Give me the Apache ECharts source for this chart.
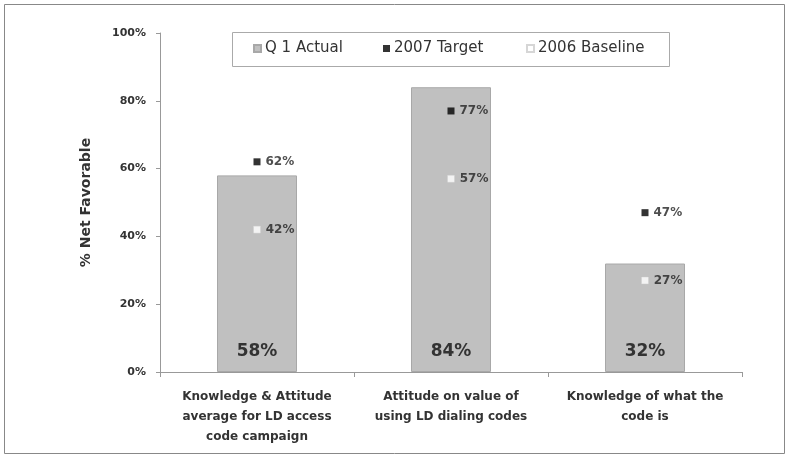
<!DOCTYPE html>
<html>
<head>
<meta charset="utf-8">
<script src="https://cdn.jsdelivr.net/npm/echarts@6/dist/echarts.min.js"></script>
<style>
  html, body { margin: 0; padding: 0; background: #fff; }
  #chart { width: 789px; height: 458px; }
</style>
</head>
<body>
<div id="chart"></div>
<script>
// categorias e valores
const categorias = [
  'Knowledge & Attitude\naverage for LD access\ncode campaign',
  'Attitude on value of\nusing LD dialing codes',
  'Knowledge of what the\ncode is'
];
const q1Actual = [58, 84, 32];
const target2007 = [62, 77, 47];
const baseline2006 = [42, 57, 27];
const yTicks = [0, 20, 40, 60, 80, 100];
const nomesSeries = ['Q 1 Actual', '2007 Target', '2006 Baseline'];

const fonte = 'DejaVu Sans, Verdana, sans-serif';

var grafico = echarts.init(document.getElementById('chart'));

// uma legenda por item, para acertar as posições da figura
function legenda(nome, esquerda) {
  return {
    left: esquerda,
    top: 41,
    padding: 0,
    itemWidth: 7,
    itemHeight: 7,
    itemGap: 0,
    textStyle: { fontFamily: fonte, fontSize: 15, color: '#333', padding: [0, 0, 0, -1] },
    data: [{ name: nome, icon: 'rect' }]
  };
}

var opcoes = {
  animation: false,
  backgroundColor: '#fff',
  textStyle: { fontFamily: fonte },
  graphic: [
    {
      type: 'rect',
      shape: { x: 4.5, y: 4.5, width: 780, height: 449 },
      style: { fill: 'none', stroke: '#888', lineWidth: 1 }
    },
    {
      type: 'rect',
      shape: { x: 232.5, y: 32.5, width: 437, height: 34 },
      style: { fill: '#fff', stroke: '#aaa', lineWidth: 1 },
      z: -1
    }
  ],
  legend: [
    legenda(nomesSeries[0], 253),
    legenda(nomesSeries[1], 383),
    legenda(nomesSeries[2], 526)
  ],
  grid: { left: 160, right: 47, top: 33, bottom: 86 },
  xAxis: {
    type: 'category',
    data: categorias,
    axisLine: { lineStyle: { color: '#999' } },
    axisTick: { show: true, interval: 0, length: 5, lineStyle: { color: '#999' } },
    axisLabel: {
      interval: 0,
      color: '#333',
      fontWeight: 'bold',
      fontSize: 12,
      lineHeight: 20,
      margin: 15,
      fontFamily: fonte
    }
  },
  yAxis: {
    type: 'value',
    min: yTicks[0],
    max: yTicks[yTicks.length - 1],
    interval: 20,
    name: '% Net Favorable',
    nameLocation: 'middle',
    nameGap: 67,
    nameTextStyle: { fontWeight: 'bold', fontSize: 14, color: '#333', fontFamily: fonte },
    axisLine: { show: true, lineStyle: { color: '#999' } },
    axisTick: { show: true, length: 4, lineStyle: { color: '#999' } },
    splitLine: { show: false },
    axisLabel: {
      formatter: '{value}%',
      fontWeight: 'bold',
      fontSize: 11,
      color: '#333',
      margin: 14,
      fontFamily: fonte
    }
  },
  series: [
    {
      name: nomesSeries[0],
      type: 'bar',
      data: q1Actual,
      barWidth: 80,
      itemStyle: { color: '#c0c0c0', borderColor: '#a8a8a8', borderWidth: 1 },
      label: {
        show: true,
        position: 'insideBottom',
        distance: 12,
        formatter: '{c}%',
        fontSize: 17,
        fontWeight: 'bold',
        color: '#333',
        fontFamily: fonte
      }
    },
    {
      name: nomesSeries[1],
      type: 'scatter',
      data: target2007,
      symbol: 'rect',
      symbolSize: 7,
      itemStyle: { color: '#000' },
      label: {
        show: true,
        position: 'right',
        distance: 5,
        formatter: '{c}%',
        fontSize: 12,
        fontWeight: 'bold',
        color: '#222',
        fontFamily: fonte
      }
    },
    {
      name: nomesSeries[2],
      type: 'scatter',
      data: baseline2006,
      symbol: 'rect',
      symbolSize: 7,
      itemStyle: { color: '#fff', borderColor: '#ccc', borderWidth: 0.5 },
      label: {
        show: true,
        position: 'right',
        distance: 5,
        formatter: '{c}%',
        fontSize: 12,
        fontWeight: 'bold',
        color: '#222',
        fontFamily: fonte
      }
    }
  ]
};

grafico.setOption(opcoes);
</script>
</body>
</html>
